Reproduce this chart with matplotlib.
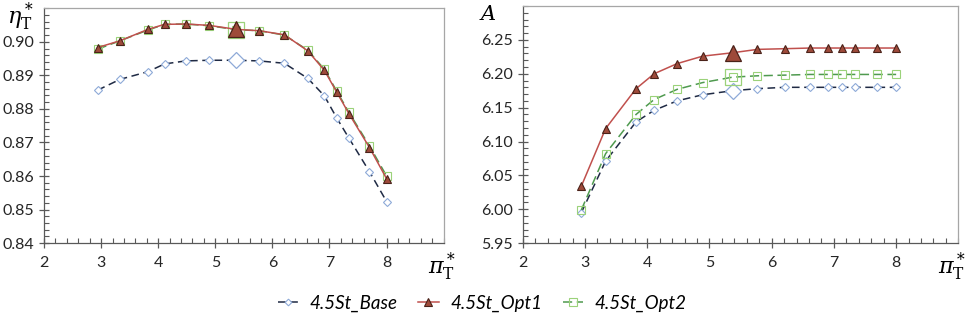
import matplotlib.pyplot as plt
import numpy as np
from matplotlib.ticker import MultipleLocator, FixedLocator
from matplotlib.lines import Line2D

# pressure ratio points (same for both panels)
pi_t = [2.94, 3.33, 3.82, 4.11, 4.48, 4.89, 5.37, 5.77, 6.21, 6.62, 6.91, 7.13, 7.34, 7.70, 8.00]
design_idx = 6  # highlighted design point (big marker)

# efficiency eta*_T
eta_base = [0.8856, 0.8888, 0.8911, 0.8934, 0.8943, 0.8945, 0.8945, 0.8943, 0.8936,
            0.8891, 0.8839, 0.8772, 0.8713, 0.8613, 0.8524]
eta_opt1 = [0.8983, 0.9003, 0.9037, 0.9052, 0.9053, 0.9049, 0.9037, 0.9033, 0.9021,
            0.8973, 0.8915, 0.8849, 0.8786, 0.8685, 0.8592]
eta_opt2 = [0.8978, 0.9003, 0.9035, 0.9052, 0.9053, 0.9048, 0.9036, 0.9033, 0.9020,
            0.8975, 0.8918, 0.8852, 0.8790, 0.8690, 0.8600]

# work A
a_base = [5.995, 6.071, 6.129, 6.146, 6.160, 6.169, 6.175, 6.178, 6.180,
          6.180, 6.180, 6.180, 6.180, 6.180, 6.180]
a_opt1 = [6.034, 6.119, 6.178, 6.200, 6.215, 6.226, 6.231, 6.236, 6.237,
          6.238, 6.238, 6.238, 6.238, 6.238, 6.238]
a_opt2 = [5.999, 6.082, 6.140, 6.162, 6.177, 6.187, 6.195, 6.197, 6.198,
          6.199, 6.199, 6.199, 6.199, 6.199, 6.199]

labels = ["4.5St_Base", "4.5St_Opt1", "4.5St_Opt2"]

plt.rcParams['font.family'] = ['Lato', 'DejaVu Sans']
plt.rcParams['mathtext.fontset'] = 'dejavuserif'

# style per series: line colour, linestyle, marker, face, edge, zorder
styles = [
    dict(color="#1f2a44", ls=(0, (5, 3)), marker="D", mfc="white", mec="#8eaad8", ms=4, z=3),
    dict(color="#c0504d", ls="-", marker="^", mfc="#9e4a3a", mec="#4a2219", ms=6, z=5),
    dict(color="#4f9a4f", ls=(0, (6, 3)), marker="s", mfc="none", mec="#9bd27a", ms=6, z=4),
]

fig = plt.figure(figsize=(9.7, 3.17), dpi=100)
ax1 = fig.add_axes([0.0454, 0.233, 0.412, 0.741])
ax2 = fig.add_axes([0.539, 0.233, 0.449, 0.748])


def draw(ax, series):
    for ys, st in zip(series, styles):
        ax.plot(pi_t, ys, color=st["color"], ls=st["ls"], lw=1.1,
                marker=st["marker"], mfc=st["mfc"], mec=st["mec"], ms=st["ms"],
                mew=0.8, zorder=st["z"])
        # enlarged design point
        ax.plot(pi_t[design_idx], ys[design_idx], ls="none", marker=st["marker"],
                mfc=st["mfc"], mec=st["mec"], ms=st["ms"] * 2.0, mew=0.9, zorder=st["z"] + 0.5)


def style_axes(ax):
    ax.set_xlim(2, 9)
    ax.xaxis.set_major_locator(FixedLocator([2, 3, 4, 5, 6, 7, 8]))
    ax.xaxis.set_minor_locator(MultipleLocator(0.2))
    for side in ["left", "bottom"]:
        ax.spines[side].set_color("#595959")
    for side in ["top", "right"]:
        ax.spines[side].set_color("#a6a6a6")
    for sp in ax.spines.values():
        sp.set_linewidth(0.9)
    ax.tick_params(which="major", direction="inout", length=7, width=0.9,
                   color="#595959", labelsize=11.5, labelcolor="#262626")
    ax.tick_params(which="minor", direction="in", length=3.5, width=0.8, color="#595959")
    ax.tick_params(axis="x", pad=6)


draw(ax1, [eta_base, eta_opt1, eta_opt2])
style_axes(ax1)
ax1.set_ylim(0.84, 0.91)
ax1.yaxis.set_major_locator(FixedLocator([0.84, 0.85, 0.86, 0.87, 0.88, 0.89, 0.90]))
ax1.yaxis.set_minor_locator(MultipleLocator(0.002))
ax1.yaxis.set_major_formatter(plt.FormatStrFormatter("%.2f"))
ax1.text(-0.025, 0.965, r"$\eta^*_\mathrm{T}$", transform=ax1.transAxes,
         ha="right", va="center", fontsize=16)
ax1.text(0.995, -0.1, r"$\pi^*_\mathrm{T}$", transform=ax1.transAxes,
         ha="center", va="center", fontsize=16)

draw(ax2, [a_base, a_opt1, a_opt2])
style_axes(ax2)
ax2.set_ylim(5.95, 6.30)
ax2.yaxis.set_major_locator(FixedLocator(np.round(np.arange(5.95, 6.251, 0.05), 2)))
ax2.yaxis.set_minor_locator(MultipleLocator(0.01))
ax2.yaxis.set_major_formatter(plt.FormatStrFormatter("%.2f"))
ax2.text(-0.06, 0.965, "$A$", transform=ax2.transAxes,
         ha="right", va="center", fontsize=15)
ax2.text(0.985, -0.1, r"$\pi^*_\mathrm{T}$", transform=ax2.transAxes,
         ha="center", va="center", fontsize=16)

handles = [Line2D([0], [0], color=st["color"], ls=st["ls"], lw=1.1, marker=st["marker"],
                  mfc=st["mfc"], mec=st["mec"], ms=st["ms"] * 0.85, mew=0.8) for st in styles]
fig.legend(handles, labels, loc="center", bbox_to_anchor=(0.497, 0.044), ncol=3,
           frameon=False, handlelength=1.1, handletextpad=0.6, columnspacing=1.1,
           prop=dict(style="italic", size=13.5))

fig.savefig("out.png", dpi=100)
